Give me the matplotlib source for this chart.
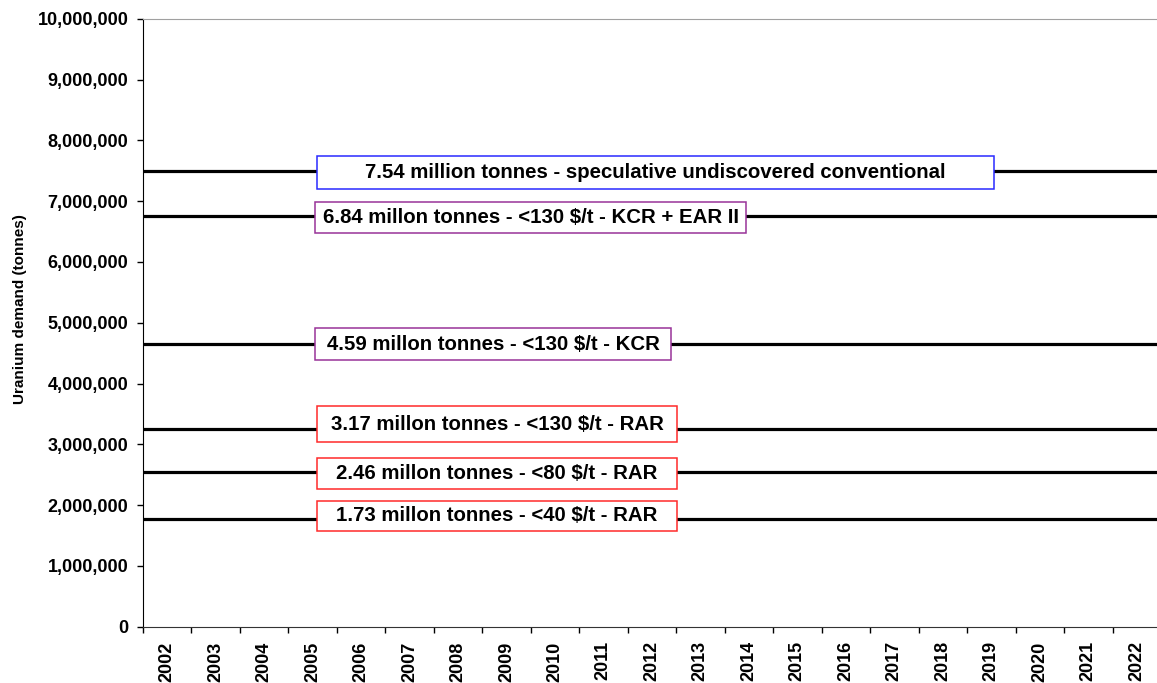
import matplotlib
matplotlib.use("Agg")
import matplotlib.pyplot as plt
from matplotlib.patches import Rectangle
from matplotlib.ticker import FuncFormatter, MultipleLocator, FixedLocator

plt.rcParams['font.family'] = ['Liberation Sans', 'DejaVu Sans']

# ---- data ----
years = [str(y) for y in range(2002, 2023)]
levels = [7495000, 6755000, 4650000, 3250000, 2540000, 1770000]
labels = [
    "7.54 million tonnes - speculative undiscovered conventional",
    "6.84 millon tonnes - <130 $/t - KCR + EAR II",
    "4.59 millon tonnes - <130 $/t - KCR",
    "3.17 millon tonnes - <130 $/t - RAR",
    "2.46 millon tonnes - <80 $/t - RAR",
    "1.73 millon tonnes - <40 $/t - RAR",
]
ylabel = "Uranium demand (tonnes)"

# ---- layout of label boxes (x in category units, y in tonnes) ----
box_x0 = [3.10, 3.06, 3.06, 3.10, 3.10, 3.10]
box_x1 = [17.05, 11.95, 10.39, 10.52, 10.52, 10.52]
box_y0 = [7199000, 6480000, 4386000, 3033000, 2270000, 1579000]
box_y1 = [7747000, 6990000, 4908000, 3630000, 2770000, 2067000]
box_colors = ["#2a2aff", "#993399", "#993399", "#ff2a2a", "#ff2a2a", "#ff2a2a"]

W, H = 1157, 683
fig = plt.figure(figsize=(W / 100, H / 100), dpi=100)
ax = fig.add_axes([142.7 / W, (H - 626.7) / H, (1161 - 142.7) / W, (626.7 - 18.7) / H])

n = len(years)
ax.set_xlim(-0.5, n - 0.5)
ax.set_ylim(0, 10_000_000)

for lv in levels:
    ax.axhline(lv, color="black", lw=2.3, zorder=2)

for lab, x0, x1, y0, y1, c in zip(labels, box_x0, box_x1, box_y0, box_y1, box_colors):
    ax.add_patch(Rectangle((x0, y0), x1 - x0, y1 - y0, facecolor="white",
                           edgecolor=c, lw=1.1, zorder=3))
    ax.text((x0 + x1) / 2, (y0 + y1) / 2, lab, ha="center", va="center",
            fontsize=14.7, fontweight="bold", zorder=4)

# y axis
ax.yaxis.set_major_locator(MultipleLocator(1_000_000))
ax.yaxis.set_major_formatter(FuncFormatter(lambda v, p: f"{int(v):,}"))
ax.tick_params(axis="y", length=4.3, width=1, pad=6, labelsize=13)
for t in ax.get_yticklabels():
    t.set_fontweight("bold")
ax.set_ylabel(ylabel, fontsize=11, fontweight="bold")
ax.yaxis.set_label_coords((27 - 142.7) / (1161 - 142.7), (626.7 - 309) / 608)

# x axis: ticks at category boundaries, labels at centers
ax.xaxis.set_major_locator(FixedLocator([i - 0.5 for i in range(n + 1)]))
ax.xaxis.set_major_formatter(FuncFormatter(lambda v, p: ""))
ax.set_xticks(list(range(n)), minor=True)
ax.set_xticklabels(years, minor=True, rotation=90, fontsize=13, fontweight="bold")
ax.tick_params(axis="x", which="major", length=4.3, width=1)
ax.tick_params(axis="x", which="minor", length=0, pad=10.5)

ax.spines["top"].set_color("#a0a0a0")
ax.spines["right"].set_visible(False)
ax.spines["left"].set_color("black")
ax.spines["bottom"].set_color("#333333")

fig.savefig("out.png", dpi=100)
